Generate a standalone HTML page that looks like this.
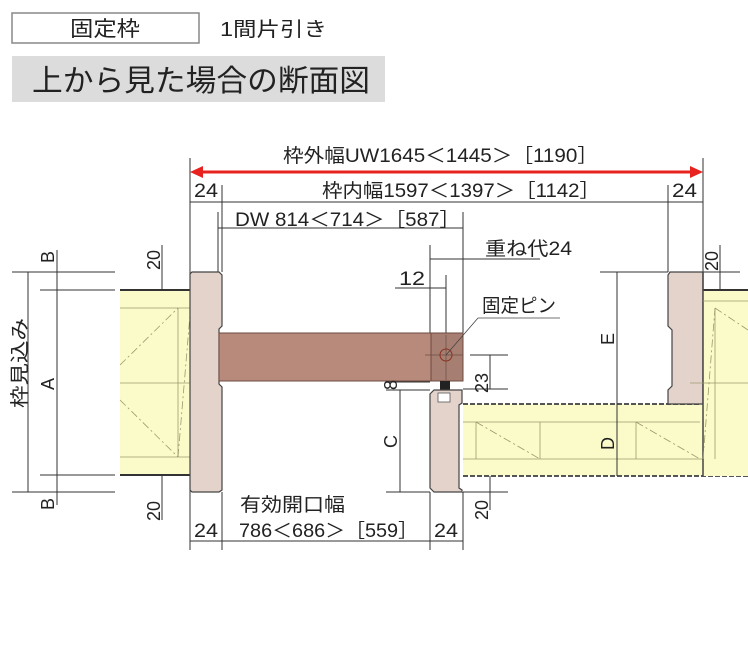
<!DOCTYPE html>
<html><head><meta charset="utf-8"><style>
body{margin:0;background:#fff;width:748px;height:650px;overflow:hidden;font-family:"Liberation Sans","Noto Sans CJK JP",sans-serif}
svg text{font-family:"Liberation Sans","Noto Sans CJK JP",sans-serif;fill:#222}
</style></head><body>
<svg width="748" height="650" viewBox="0 0 748 650" xmlns="http://www.w3.org/2000/svg">
<rect x="12" y="13" width="187" height="30" fill="#fff" stroke="#888" stroke-width="1.5"/>
<text x="70" y="36" font-size="21" textLength="70" lengthAdjust="spacingAndGlyphs">固定枠</text>
<text x="220" y="36" font-size="20" textLength="107" lengthAdjust="spacingAndGlyphs">1間片引き</text>
<rect x="12" y="56" width="373" height="46" fill="#dcdcdc"/>
<text x="32" y="91" font-size="30" fill="#111" textLength="338" lengthAdjust="spacingAndGlyphs">上から見た場合の断面図</text>

<g stroke="#333" stroke-width="1" fill="none">
<line x1="190" y1="158" x2="190" y2="550"/><line x1="703" y1="158" x2="703" y2="272"/>
<line x1="222" y1="185" x2="222" y2="272"/><line x1="668" y1="185" x2="668" y2="272"/>
<line x1="190" y1="202" x2="703" y2="202"/>
<line x1="218" y1="212" x2="218" y2="272"/><line x1="463" y1="212" x2="463" y2="333"/>
<line x1="218" y1="228" x2="463" y2="228"/>
<line x1="430" y1="245" x2="430" y2="333"/>
<line x1="430" y1="259" x2="540" y2="259"/>
<line x1="395" y1="288" x2="430" y2="288"/><line x1="446" y1="275" x2="446" y2="333"/>
<line x1="430" y1="288" x2="446" y2="288"/>
<line x1="470" y1="355" x2="508" y2="355"/><line x1="463" y1="389" x2="508" y2="389"/>
<line x1="490" y1="355" x2="490" y2="389"/>
<line x1="386" y1="382" x2="430" y2="382"/><line x1="386" y1="390" x2="430" y2="390"/>
<line x1="400" y1="390" x2="400" y2="492"/>
<line x1="386" y1="492" x2="430" y2="492"/>
<line x1="463" y1="465" x2="508" y2="465"/><line x1="463" y1="492" x2="508" y2="492"/>
<line x1="490" y1="465" x2="490" y2="510"/>
<line x1="222" y1="492" x2="222" y2="550"/><line x1="430" y1="492" x2="430" y2="550"/><line x1="463" y1="492" x2="463" y2="550"/>
<line x1="190" y1="541" x2="463" y2="541"/>
<line x1="600" y1="272" x2="668" y2="272"/><line x1="617" y1="272" x2="617" y2="476"/>
<line x1="703" y1="272" x2="740" y2="272"/><line x1="720" y1="245" x2="720" y2="303"/>
<line x1="12" y1="272" x2="115" y2="272"/><line x1="12" y1="492" x2="115" y2="492"/>
<line x1="40" y1="290" x2="115" y2="290"/><line x1="40" y1="475" x2="115" y2="475"/>
<line x1="28" y1="272" x2="28" y2="492"/><line x1="57" y1="250" x2="57" y2="505"/>
<line x1="146" y1="300" x2="180" y2="300"/><line x1="146" y1="465" x2="180" y2="465"/>
<line x1="162" y1="245" x2="162" y2="300"/><line x1="162" y1="465" x2="162" y2="520"/>
</g>
<line x1="198" y1="172" x2="695" y2="172" stroke="#e8231f" stroke-width="3"/>
<polygon points="190,172 203,166 203,178" fill="#e8231f"/>
<polygon points="703,172 690,166 690,178" fill="#e8231f"/>

<rect x="120" y="290" width="70" height="185" fill="#fafbc8"/>
<line x1="120" y1="290" x2="190" y2="290" stroke="#333" stroke-width="2"/>
<line x1="120" y1="475" x2="190" y2="475" stroke="#333" stroke-width="2"/>
<g stroke="#9a9a70" stroke-width="0.8" fill="none">
<line x1="120" y1="308" x2="190" y2="308"/><line x1="120" y1="457" x2="190" y2="457"/>
<line x1="120" y1="383" x2="200" y2="383"/><line x1="178" y1="308" x2="178" y2="457"/>
<line x1="120" y1="365" x2="178" y2="308" stroke-dasharray="8,3,2,3"/>
<line x1="120" y1="400" x2="178" y2="457" stroke-dasharray="8,3,2,3"/>
<line x1="178" y1="457" x2="190" y2="315" stroke-dasharray="8,3,2,3"/>
</g>
<path d="M192,272 H219 L222,275 V326 L219,329 V384 L222,387 V490 L219,492 H192 L190,490 V274 Z" fill="#e3d3cb" stroke="#444" stroke-width="1.2"/>
<rect x="219" y="333" width="244" height="48" fill="#b88a7c" stroke="#6b4a40" stroke-width="1"/>
<rect x="431" y="333" width="32" height="48" fill="#a67f72" stroke="#6b4a40" stroke-width="1"/>
<line x1="446" y1="335" x2="446" y2="380" stroke="#6b4a40" stroke-width="0.7"/>
<line x1="425" y1="355" x2="463" y2="355" stroke="#6b4a40" stroke-width="0.7"/>
<circle cx="446" cy="355" r="6" fill="none" stroke="#8a3020" stroke-width="1"/>
<line x1="446" y1="355" x2="478" y2="318" stroke="#444" stroke-width="0.8"/>
<line x1="478" y1="318" x2="560" y2="318" stroke="#444" stroke-width="0.8"/>
<rect x="440" y="381" width="10" height="10" fill="#222"/>
<path d="M434,390 H462 V403 L459,405 V488 L462,490 V492 H434 L430,488 V394 Z" fill="#e3d3cb" stroke="#444" stroke-width="1.2"/>
<rect x="438" y="393" width="12" height="9" fill="#fff" stroke="#555" stroke-width="0.8"/>
<rect x="463" y="404" width="285" height="72" fill="#fafbc8"/>
<line x1="463" y1="404" x2="700" y2="404" stroke="#555" stroke-width="2" stroke-dasharray="5,2"/>
<line x1="463" y1="476" x2="748" y2="476" stroke="#555" stroke-width="2" stroke-dasharray="5,2"/>
<g stroke="#9a9a70" stroke-width="0.8" fill="none">
<line x1="463" y1="422" x2="700" y2="422"/><line x1="463" y1="459" x2="748" y2="459"/>
<line x1="476" y1="422" x2="476" y2="459"/><line x1="540" y1="422" x2="540" y2="459"/><line x1="636" y1="422" x2="636" y2="459"/>
<line x1="476" y1="422" x2="540" y2="459" stroke-dasharray="8,3,2,3"/>
<line x1="636" y1="422" x2="700" y2="459" stroke-dasharray="8,3,2,3"/>
</g>
<path d="M670,272 H703 V404 H668 V390 L672,386 V330 L668,326 V275 Z" fill="#e3d3cb" stroke="#444" stroke-width="1.2"/>
<rect x="703" y="290" width="45" height="186" fill="#fafbc8"/>
<line x1="703" y1="290" x2="748" y2="290" stroke="#333" stroke-width="2"/>
<line x1="703" y1="272" x2="703" y2="476" stroke="#444" stroke-width="1.5"/>
<g stroke="#9a9a70" stroke-width="0.8" fill="none">
<line x1="703" y1="301" x2="748" y2="301"/><line x1="715" y1="308" x2="715" y2="459"/>
<line x1="690" y1="383" x2="748" y2="383"/>
<line x1="715" y1="308" x2="748" y2="330" stroke-dasharray="8,3,2,3"/>
<line x1="703" y1="459" x2="715" y2="308" stroke-dasharray="8,3,2,3"/>
</g>
<line x1="617" y1="272" x2="617" y2="476" stroke="#333" stroke-width="1"/>

<g font-size="19">
<text x="283" y="162" textLength="315" lengthAdjust="spacingAndGlyphs">枠外幅UW1645＜1445＞［1190］</text>
<text x="194" y="197" textLength="24" lengthAdjust="spacingAndGlyphs">24</text>
<text x="672" y="197" textLength="25" lengthAdjust="spacingAndGlyphs">24</text>
<text x="322" y="197" textLength="278" lengthAdjust="spacingAndGlyphs">枠内幅1597＜1397＞［1142］</text>
<text x="235" y="226" textLength="225" lengthAdjust="spacingAndGlyphs">DW 814＜714＞［587］</text>
<text x="485" y="255" textLength="87" lengthAdjust="spacingAndGlyphs">重ね代24</text>
<text x="399" y="285" textLength="26" lengthAdjust="spacingAndGlyphs">12</text>
<text x="482" y="312" textLength="74" lengthAdjust="spacingAndGlyphs">固定ピン</text>
<text x="194" y="537" textLength="24" lengthAdjust="spacingAndGlyphs">24</text>
<text x="434" y="537" textLength="24" lengthAdjust="spacingAndGlyphs">24</text>
<text x="240" y="511" textLength="105" lengthAdjust="spacingAndGlyphs">有効開口幅</text>
<text x="239" y="537" textLength="179" lengthAdjust="spacingAndGlyphs">786＜686＞［559］</text>
<text transform="translate(160,270) rotate(-90)" font-size="18">20</text>
<text transform="translate(160,521) rotate(-90)" font-size="18">20</text>
<text transform="translate(54,263) rotate(-90)" font-size="18">B</text>
<text transform="translate(54,510) rotate(-90)" font-size="18">B</text>
<text transform="translate(54,390) rotate(-90)" font-size="18">A</text>
<text transform="translate(26,408) rotate(-90)" font-size="19" textLength="90" lengthAdjust="spacingAndGlyphs">枠見込み</text>
<text transform="translate(397,390) rotate(-90)" font-size="18">8</text>
<text transform="translate(488,393) rotate(-90)" font-size="18">23</text>
<text transform="translate(397,448) rotate(-90)" font-size="18">C</text>
<text transform="translate(488,520) rotate(-90)" font-size="18">20</text>
<text transform="translate(614,345) rotate(-90)" font-size="18">E</text>
<text transform="translate(614,450) rotate(-90)" font-size="18" fill="#555">D</text>
<text transform="translate(718,271) rotate(-90)" font-size="18">20</text>
</g>
</svg>
</body></html>
